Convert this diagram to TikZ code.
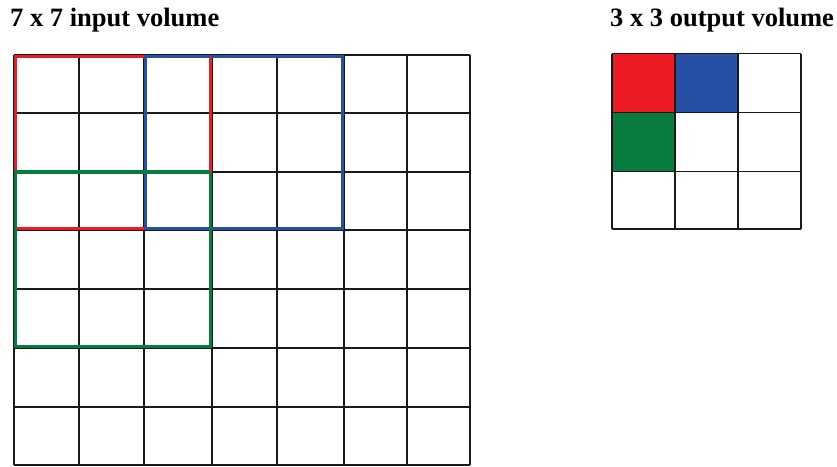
\documentclass[tikz,border=0pt]{standalone}
\usepackage{fontspec}
\setmainfont{Liberation Serif}
\definecolor{cred}{HTML}{ED1C24}
\definecolor{cblue}{HTML}{2650A4}
\definecolor{cgreen}{HTML}{077C3E}
\begin{document}
\begin{tikzpicture}[x=1pt,y=-1pt,
  gridline/.style={draw=black!90, line width=1.4pt},
  winbox/.style={line width=3.4pt, line join=miter},
  title/.style={anchor=base west, inner sep=0pt, font=\fontsize{26.5}{30}\selectfont\bfseries}]
\useasboundingbox (0,0) rectangle (837,466);
% titles
\node[title] (t1) at (10,26) {7 x 7 input volume};
\node[title] (t2) at (610,26) {3 x 3 output volume};
% input grid
\foreach \x in {14,79,144,212,277,344,407,470} {
  \draw[gridline] (\x,55) -- (\x,465);
}
\foreach \y in {55,113,172,230,289,348,407,465} {
  \draw[gridline] (14,\y) -- (470,\y);
}
% windows
\draw[winbox, draw=cred] (15.5,56.5) rectangle (210.5,228.5);
\draw[winbox, draw=cblue] (145.5,56.5) rectangle (342.5,228.5);
\draw[winbox, draw=cgreen] (15.5,172) -- (15.5,346.5) -- (210.5,346.5) -- (210.5,172) -- cycle;
\draw[winbox, draw=cred] (210.5,56.5) -- (210.5,172);
% output grid
\fill[cred] (612,53.5) rectangle (675,112.7);
\fill[cblue] (675,53.5) rectangle (738,112.7);
\fill[cgreen] (612,112.7) rectangle (675,171.7);
\foreach \x in {612,675,738,801} {
  \draw[gridline] (\x,53.5) -- (\x,229);
}
\foreach \y in {53.5,112.7,171.7,229} {
  \draw[gridline] (612,\y) -- (801,\y);
}
\end{tikzpicture}
\end{document}
